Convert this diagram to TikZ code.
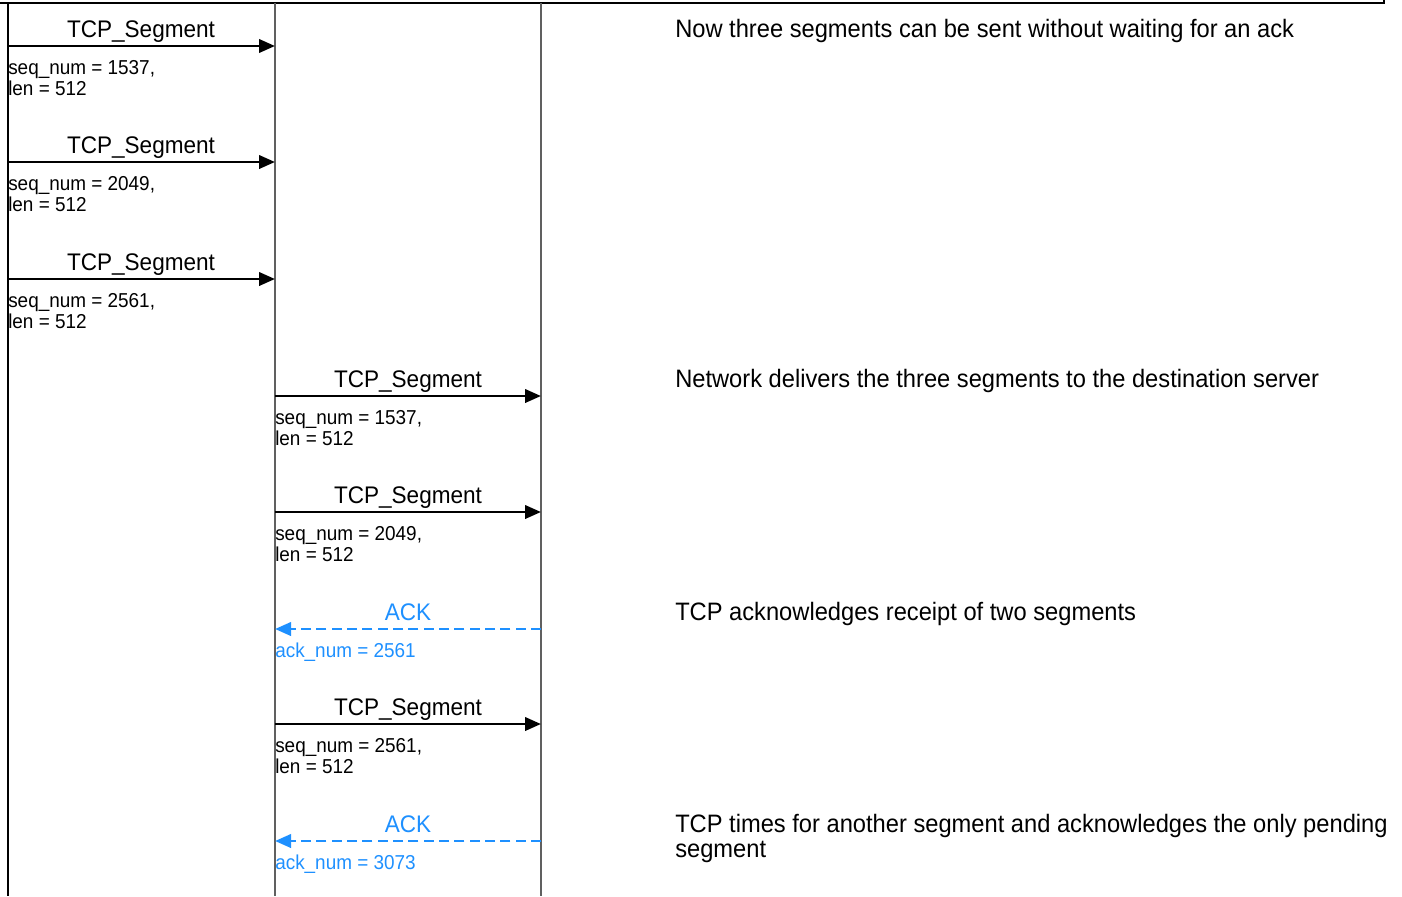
\documentclass[tikz,border=0pt]{standalone}
\usepackage{fontspec}
\setmainfont{Liberation Sans}[FakeStretch=0.94]
\usetikzlibrary{arrows.meta}
\definecolor{ackblue}{HTML}{1E90FF}
\definecolor{lifegray}{HTML}{606060}
\tikzset{
  lifeL/.style={draw=black, line width=1.5pt},
  lifeG/.style={draw=lifegray, line width=1pt},
  msg/.style={draw=black, line width=2.1pt, -{Triangle[length=12pt, width=10pt]}},
  ackmsg/.style={draw=ackblue, line width=2.1pt, dash pattern=on 7.5pt off 4pt, -{Triangle[length=12pt, width=10pt]}},
  lab/.style={inner sep=0pt, anchor=base, font=\fontsize{18}{20}\selectfont},
  acklab/.style={lab, text=ackblue},
  info/.style={inner sep=0pt, anchor=base west, font=\fontsize{15.1}{16}\selectfont},
  ackinfo/.style={info, text=ackblue},
  note/.style={inner sep=0pt, anchor=base west, font=\fontsize{18.9}{20}\selectfont},
}
\begin{document}
\begin{tikzpicture}[x=0.75pt, y=-0.75pt]
\useasboundingbox (0,0) rectangle (1402,896);
% frame corner
\coordinate (fl) at (0,3);
\coordinate (fr) at (1384,3);
\coordinate (ft) at (1384,0);
\draw[line width=1.8pt] (fl) -- (fr) -- (ft);
% lifelines
\coordinate (aT) at (8,3);   \coordinate (aB) at (8,896);
\coordinate (bT) at (275,3); \coordinate (bB) at (275,896);
\coordinate (cT) at (541,3); \coordinate (cB) at (541,896);
\draw[lifeL] (aT) -- (aB);
\draw[lifeG] (bT) -- (bB);
\draw[lifeG] (cT) -- (cB);
% message endpoints
\foreach \n/\y in {1/46,2/162,3/279}{
  \coordinate (s\n) at (8,\y); \coordinate (e\n) at (275,\y);
}
\foreach \n/\y in {4/396,5/512,6/629,7/724,8/841}{
  \coordinate (s\n) at (275,\y); \coordinate (e\n) at (541,\y);
}
% messages
\draw[msg] (s1) -- (e1);
\draw[msg] (s2) -- (e2);
\draw[msg] (s3) -- (e3);
\draw[msg] (s4) -- (e4);
\draw[msg] (s5) -- (e5);
\draw[ackmsg] (e6) -- (s6);
\draw[msg] (s7) -- (e7);
\draw[ackmsg] (e8) -- (s8);
% labels
\node[lab] (l1) at (141,37) {TCP\_Segment};
\node[lab] (l2) at (141,153) {TCP\_Segment};
\node[lab] (l3) at (141,270) {TCP\_Segment};
\node[lab] (l4) at (408,387) {TCP\_Segment};
\node[lab] (l5) at (408,503) {TCP\_Segment};
\node[acklab] (l6) at (408,620) {ACK};
\node[lab] (l7) at (408,715) {TCP\_Segment};
\node[acklab] (l8) at (408,832) {ACK};
% info
\node[info] (i1a) at (8,74) {seq\_num = 1537,};
\node[info] (i1b) at (8,95) {len = 512};
\node[info] (i2a) at (8,190) {seq\_num = 2049,};
\node[info] (i2b) at (8,211) {len = 512};
\node[info] (i3a) at (8,307) {seq\_num = 2561,};
\node[info] (i3b) at (8,328) {len = 512};
\node[info] (i4a) at (275,424) {seq\_num = 1537,};
\node[info] (i4b) at (275,445) {len = 512};
\node[info] (i5a) at (275,540) {seq\_num = 2049,};
\node[info] (i5b) at (275,561) {len = 512};
\node[ackinfo] (i6) at (275,657) {ack\_num = 2561};
\node[info] (i7a) at (275,752) {seq\_num = 2561,};
\node[info] (i7b) at (275,773) {len = 512};
\node[ackinfo] (i8) at (275,869) {ack\_num = 3073};
% notes
\node[note] (n1) at (675,37) {Now three segments can be sent without waiting for an ack};
\node[note] (n2) at (675,387) {Network delivers the three segments to the destination server};
\node[note] (n3) at (675,620) {TCP acknowledges receipt of two segments};
\node[note] (n4a) at (675,832) {TCP times for another segment and acknowledges the only pending};
\node[note] (n4b) at (675,857) {segment};
\end{tikzpicture}
\end{document}
